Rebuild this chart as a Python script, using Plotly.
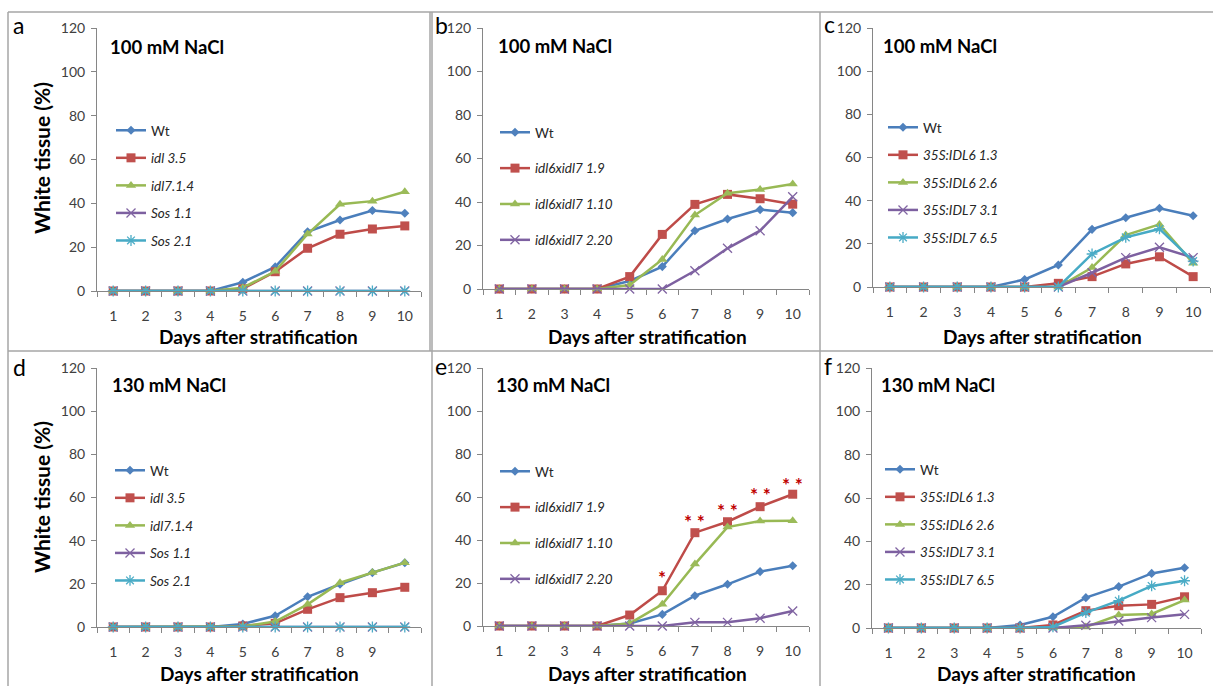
import plotly.graph_objects as go

# ---------------- data ----------------
days = [1, 2, 3, 4, 5, 6, 7, 8, 9, 10]
x_labels = ["1", "2", "3", "4", "5", "6", "7", "8", "9", "10"]
d_x_labels = ["1", "2", "3", "4", "5", "6", "7", "8", "9", ""]
y_ticks = [0, 20, 40, 60, 80, 100, 120]

# panel a (100 mM NaCl)
a_wt = [0, 0, 0, 0, 4, 11, 27, 32.4, 36.7, 35.5]
a_idl35 = [0, 0, 0, 0, 1, 8.8, 19.5, 25.9, 28.3, 29.7]
a_idl714 = [0, 0, 0, 0, 1.5, 9, 26, 39.6, 41, 45.3]
a_sos11 = [0, 0, 0, 0, 0, 0, 0, 0, 0, 0]
a_sos21 = [0, 0, 0, 0, 0, 0, 0, 0, 0, 0]

# panel b (100 mM NaCl)
b_wt = [0, 0, 0, 0, 3.7, 10.3, 26.8, 32.2, 36.5, 35.1]
b_dbl19 = [0, 0, 0, 0, 5.7, 25.1, 38.9, 43.5, 41.5, 39]
b_dbl110 = [0, 0, 0, 0, 1.8, 13.6, 34, 44, 45.8, 48.3]
b_dbl220 = [0, 0, 0, 0, 0, 0, 8.4, 18.7, 26.8, 42.4]

# panel c (100 mM NaCl)
c_wt = [0, 0, 0, 0, 3.5, 10.2, 26.7, 32.1, 36.5, 33]
c_idl6_13 = [0, 0, 0, 0, 0, 1.7, 4.8, 10.7, 14, 4.8]
c_idl6_26 = [0, 0, 0, 0, 0, 0, 9, 24.1, 29, 11]
c_idl7_31 = [0, 0, 0, 0, 0, 0, 6.6, 13.6, 18.4, 13.6]
c_idl7_65 = [0, 0, 0, 0, 0, 0, 15.3, 23, 26.9, 12]

# panel d (130 mM NaCl)
d_wt = [0, 0, 0, 0, 1.4, 5.2, 14, 19.8, 25.2, 29.8]
d_idl35 = [0, 0, 0, 0, 0.5, 1.7, 8.2, 13.6, 15.9, 18.4]
d_idl714 = [0, 0, 0, 0, 0.3, 2.5, 10.5, 20.5, 25.2, 29.8]
d_sos11 = [0, 0, 0, 0, 0, 0, 0, 0, 0, 0]
d_sos21 = [0, 0, 0, 0, 0, 0, 0, 0, 0, 0]

# panel e (130 mM NaCl)
e_wt = [0, 0, 0, 0, 1.2, 5.4, 14.1, 19.4, 25.3, 28]
e_dbl19 = [0, 0, 0, 0, 5.1, 16.4, 43.4, 48.5, 55.5, 61.3]
e_dbl110 = [0, 0, 0, 0, 1.2, 10.1, 28.8, 46, 48.8, 49]
e_dbl220 = [0, 0, 0, 0, 0, 0, 1.7, 1.7, 3.6, 7]
e_sig_days = [6, 7, 8, 9, 10]
e_sig_y = [22.5, 48.5, 53.5, 61, 66]
e_sig_text = ["*", "* *", "* *", "* *", "* *"]

# panel f (130 mM NaCl)
f_wt = [0, 0, 0, 0, 1.4, 5.2, 14, 19.1, 25.2, 27.8]
f_idl6_13 = [0, 0, 0, 0, 0, 1.4, 8, 10.3, 10.9, 14.4]
f_idl6_26 = [0, 0, 0, 0, 0, 0, 0.5, 6, 6.5, 12.9]
f_idl7_31 = [0, 0, 0, 0, 0, 0, 1.3, 3.2, 4.8, 6.3]
f_idl7_65 = [0, 0, 0, 0, 0, 0.5, 7.1, 12.6, 19.4, 21.8]

# ---------------- styling ----------------
W, H = 1214, 686
FONT = "Lato"
AXC = "#868686"
TXT = "#404040"

STY = {
    "blue": dict(line="#4A7EBB", marker="#4F81BD", symbol="diamond", size=7),
    "red": dict(line="#BE4B48", marker="#C0504D", symbol="square", size=9),
    "green": dict(line="#98B954", marker="#9BBB59", symbol="triangle-up", size=9),
    "purple": dict(line="#7D60A0", marker="#8064A2", symbol="x-thin-open", size=9),
    "cyan": dict(line="#46AAC5", marker="#4BACC6", symbol="asterisk-open", size=9),
}


def px(x):
    return x / W


def py(y):
    return 1 - y / H


panels = [
    dict(x0=97, x1=421, yt=28, yb=291, lx=111, ly=115, gap=7, title="100 mM NaCl", letter="a", lpos=(11, 25),
         titlepos=(108, 47), xt=(258, 337), xl=x_labels,
         series=[("Wt", a_wt, "blue"), ("<i>idl 3.5</i>", a_idl35, "red"), ("<i>idl7.1.4</i>", a_idl714, "green"),
                 ("<i>Sos 1.1</i>", a_sos11, "purple"), ("<i>Sos 2.1</i>", a_sos21, "cyan")]),
    dict(x0=483, x1=809, yt=28, yb=289, lx=495, ly=117, gap=15.3, title="100 mM NaCl", letter="b", lpos=(433, 25),
         titlepos=(496, 46), xt=(647, 337), xl=x_labels,
         series=[("Wt", b_wt, "blue"), ("<i>idl6xidl7 1.9</i>", b_dbl19, "red"),
                 ("<i>idl6xidl7 1.10</i>", b_dbl110, "green"), ("<i>idl6xidl7 2.20</i>", b_dbl220, "purple")]),
    dict(x0=873, x1=1210, yt=28, yb=287, lx=883, ly=112, gap=7, title="100 mM NaCl", letter="c", lpos=(822, 24),
         titlepos=(881, 46), xt=(1042, 337), xl=x_labels,
         series=[("Wt", c_wt, "blue"), ("<i>35S:IDL6 1.3</i>", c_idl6_13, "red"),
                 ("<i>35S:IDL6 2.6</i>", c_idl6_26, "green"), ("<i>35S:IDL7 3.1</i>", c_idl7_31, "purple"),
                 ("<i>35S:IDL7 6.5</i>", c_idl7_65, "cyan")]),
    dict(x0=97, x1=421, yt=368, yb=627, lx=110, ly=455, gap=7, title="130 mM NaCl", letter="d", lpos=(11, 367),
         titlepos=(110, 385), xt=(259, 673), xl=d_x_labels,
         series=[("Wt", d_wt, "blue"), ("<i>idl 3.5</i>", d_idl35, "red"), ("<i>idl7.1.4</i>", d_idl714, "green"),
                 ("<i>Sos 1.1</i>", d_sos11, "purple"), ("<i>Sos 2.1</i>", d_sos21, "cyan")]),
    dict(x0=483, x1=809, yt=368, yb=626, lx=495, ly=456, gap=15.3, title="130 mM NaCl", letter="e", lpos=(433, 366),
         titlepos=(494, 385), xt=(647, 673), xl=x_labels,
         series=[("Wt", e_wt, "blue"), ("<i>idl6xidl7 1.9</i>", e_dbl19, "red"),
                 ("<i>idl6xidl7 1.10</i>", e_dbl110, "green"), ("<i>idl6xidl7 2.20</i>", e_dbl220, "purple")]),
    dict(x0=872, x1=1201, yt=368, yb=628, lx=880, ly=454, gap=7, title="130 mM NaCl", letter="f", lpos=(822, 366),
         titlepos=(879, 385), xt=(1036, 673), xl=x_labels,
         series=[("Wt", f_wt, "blue"), ("<i>35S:IDL6 1.3</i>", f_idl6_13, "red"),
                 ("<i>35S:IDL6 2.6</i>", f_idl6_26, "green"), ("<i>35S:IDL7 3.1</i>", f_idl7_31, "purple"),
                 ("<i>35S:IDL7 6.5</i>", f_idl7_65, "cyan")]),
]

fig = go.Figure()
layout = dict(
    width=W, height=H, margin=dict(l=0, r=0, t=0, b=0, pad=0, autoexpand=False),
    paper_bgcolor="white", plot_bgcolor="white",
    font=dict(family=FONT, color=TXT), showlegend=True,
)
annotations = []
shapes = []

boundaries = [d - 0.5 for d in days] + [days[-1] + 0.5]

for i, p in enumerate(panels, start=1):
    sfx = "" if i == 1 else str(i)
    xa, ya = "x" + sfx, "y" + sfx
    leg = "legend" + sfx
    for j, (name, vals, col) in enumerate(p["series"]):
        st = STY[col]
        mk = dict(symbol=st["symbol"], size=st["size"], color=st["marker"])
        if st["symbol"].endswith("open"):
            mk["line"] = dict(color=st["marker"], width=1.3)
        fig.add_trace(go.Scatter(
            x=days, y=vals, name=name, mode="lines+markers",
            line=dict(color=st["line"], width=2.5), marker=mk,
            xaxis=xa, yaxis=ya, legend=leg, legendgroup=f"p{i}s{j}",
            cliponaxis=False, hoverinfo="skip",
        ))
    layout["xaxis" + sfx] = dict(
        domain=[px(p["x0"]), px(p["x1"])], anchor=ya, range=[0.5, 10.5], automargin=False,
        tickmode="array", tickvals=days, ticktext=p["xl"], ticks="outside", ticklen=5,
        tickcolor="rgba(0,0,0,0)", showline=True, linecolor=AXC, linewidth=1,
        showgrid=False, zeroline=False, ticklabelstandoff=7,
        tickfont=dict(family=FONT, size=14, color=TXT),
        minor=dict(tickmode="array", tickvals=boundaries, ticks="outside", ticklen=5,
                   tickcolor=AXC, tickwidth=1, showgrid=False),
    )
    layout["yaxis" + sfx] = dict(
        domain=[py(p["yb"]), py(p["yt"])], anchor=xa, range=[0, 120], automargin=False,
        tickmode="array", tickvals=y_ticks, ticks="outside", ticklen=5, tickcolor=AXC,
        showline=True, linecolor=AXC, linewidth=1, showgrid=False, zeroline=False,
        tickfont=dict(family=FONT, size=14, color=TXT), ticklabelstandoff=3,
    )
    layout[leg] = dict(
        x=px(p["lx"]), y=py(p["ly"]), xanchor="left", yanchor="top",
        bgcolor="rgba(0,0,0,0)", tracegroupgap=p["gap"], itemwidth=30,
        font=dict(family=FONT, size=13.5, color="#262626"), traceorder="grouped",
    )
    annotations.append(dict(
        x=px(p["titlepos"][0]), y=py(p["titlepos"][1]), xref="paper", yref="paper",
        xanchor="left", yanchor="middle", showarrow=False, text="<b>" + p["title"] + "</b>",
        font=dict(family=FONT, size=18.5, color="black"),
    ))
    annotations.append(dict(
        x=px(p["lpos"][0]), y=py(p["lpos"][1]), xref="paper", yref="paper",
        xanchor="left", yanchor="middle", showarrow=False, text=p["letter"],
        font=dict(family=FONT, size=23, color="black"),
    ))
    annotations.append(dict(
        x=px(p["xt"][0]), y=py(p["xt"][1]), xref="paper", yref="paper",
        xanchor="center", yanchor="middle", showarrow=False,
        text="<b>Days after stratification</b>",
        font=dict(family=FONT, size=19, color="black"),
    ))

for yc in (158, 497):
    annotations.append(dict(
        x=px(41), y=py(yc), xref="paper", yref="paper", xanchor="center", yanchor="middle",
        showarrow=False, textangle=-90, text="<b>White tissue (%)</b>",
        font=dict(family=FONT, size=21, color="black"),
    ))

for d, yv, t in zip(e_sig_days, e_sig_y, e_sig_text):
    annotations.append(dict(
        x=d, y=yv, xref="x5", yref="y5", xanchor="center", yanchor="middle", showarrow=False,
        text="<b>" + t + "</b>", font=dict(family=FONT, size=19, color="#C00000"),
    ))

BC = "#A6A6A6"
frame = [
    (8, 12, 1213, 12), (8, 12, 8, 686), (430, 12, 430, 351), (432, 12, 432, 686),
    (820, 12, 820, 686), (8, 351, 1213, 351),
]
for x0, y0, x1, y1 in frame:
    shapes.append(dict(type="line", xref="paper", yref="paper", x0=px(x0), y0=py(y0), x1=px(x1), y1=py(y1),
                       line=dict(color=BC, width=1.5)))

layout["annotations"] = annotations
layout["shapes"] = shapes
fig.update_layout(**layout)
fig.write_html("out.html", config={"displayModeBar": False},
               post_script="document.body.style.margin='0px';")
